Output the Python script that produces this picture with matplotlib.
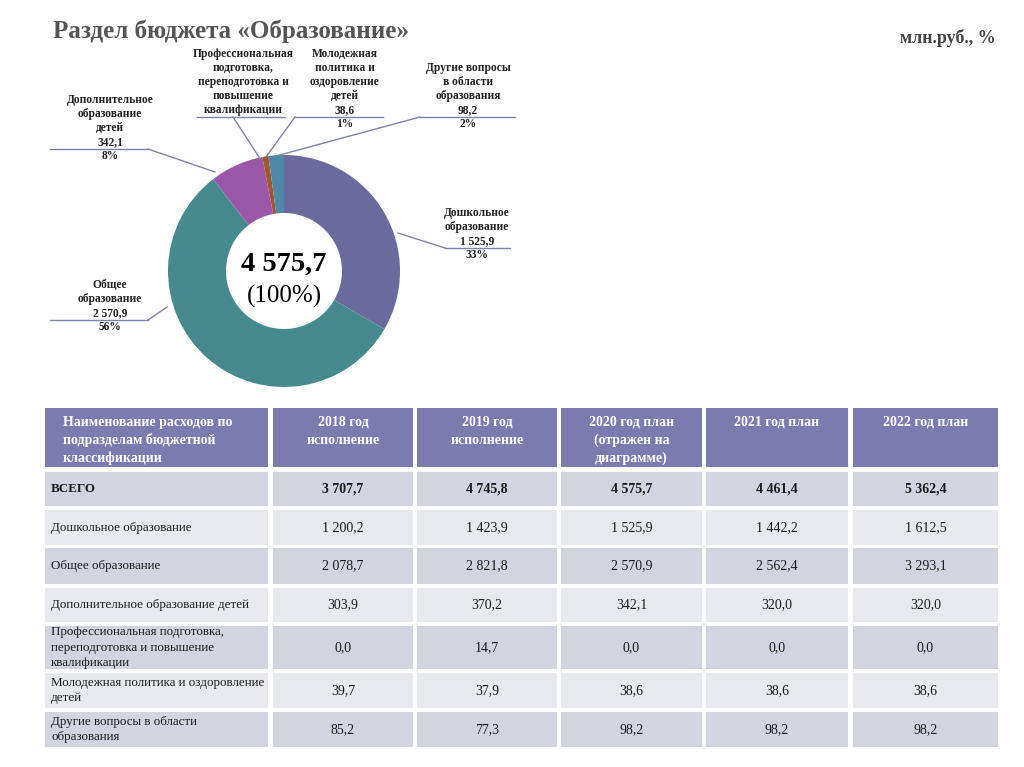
import numpy as np
import matplotlib
matplotlib.use("Agg")
import matplotlib.pyplot as plt
from matplotlib.patches import Rectangle

plt.rcParams['font.family'] = ['Liberation Serif', 'DejaVu Serif']

# data
categories = ["Дошкольное образование", "Общее образование",
              "Дополнительное образование детей",
              "Профессиональная подготовка, переподготовка и повышение квалификации",
              "Молодежная политика и оздоровление детей",
              "Другие вопросы в области образования"]
plan_2020 = [1525.9, 2570.9, 342.1, 0.0, 38.6, 98.2]
pct_labels = ["33%", "56%", "8%", "", "1%", "2%"]
slice_colors = ["#6B6A9C", "#468A8F", "#9B58A8", "#8E5A8A", "#A0582E", "#5089A8"]

col_headers = ["Наименование расходов по\nподразделам бюджетной\nклассификации",
               "2018 год\nисполнение", "2019 год\nисполнение",
               "2020 год план\n(отражен на\nдиаграмме)", "2021 год план", "2022 год план"]
row_names = ["ВСЕГО", "Дошкольное образование", "Общее образование",
             "Дополнительное образование детей",
             "Профессиональная подготовка,\nпереподготовка и повышение\nквалификации",
             "Молодежная политика и оздоровление\nдетей",
             "Другие вопросы в области\nобразования"]
values = [
    ["3 707,7", "4 745,8", "4 575,7", "4 461,4", "5 362,4"],
    ["1 200,2", "1 423,9", "1 525,9", "1 442,2", "1 612,5"],
    ["2 078,7", "2 821,8", "2 570,9", "2 562,4", "3 293,1"],
    ["303,9", "370,2", "342,1", "320,0", "320,0"],
    ["0,0", "14,7", "0,0", "0,0", "0,0"],
    ["39,7", "37,9", "38,6", "38,6", "38,6"],
    ["85,2", "77,3", "98,2", "98,2", "98,2"],
]

W, H = 1024, 767
fig = plt.figure(figsize=(W / 100, H / 100), dpi=100)
fig.patch.set_facecolor("white")

# overlay axes in pixel coordinates for text, table and leader lines
ov = fig.add_axes([0, 0, 1, 1])
ov.set_xlim(0, W)
ov.set_ylim(H, 0)
ov.axis("off")

ov.text(53, 31, "Раздел бюджета «Образование»", fontsize=18, fontweight="bold",
        color="#555555", va="center", ha="left")
ov.text(996, 38, "млн.руб., %", fontsize=13, fontweight="bold",
        color="#444444", va="center", ha="right")

# donut
cx, cy, r = 284, 271, 116
pax = fig.add_axes([(cx - r) / W, (H - cy - r) / H, 2 * r / W, 2 * r / H])
pax.pie(plan_2020, colors=slice_colors, startangle=90, counterclock=False,
        radius=1.0, wedgeprops=dict(width=0.5, edgecolor="none"))
pax.set_xlim(-1, 1)
pax.set_ylim(-1, 1)
pax.set_aspect("auto")
pax.axis("off")

ov.text(cx, 264, "4 575,7", fontsize=20.5, fontweight="bold", ha="center", va="center")
ov.text(cx, 296, "(100%)", fontsize=18, ha="center", va="center")

# slice labels: (text center x, underline y, underline x0, x1, leader start x, leader end on donut)
lbl_fs = 8.3
label_text = [
    "Дошкольное\nобразование\n1 525,9",
    "Общее\nобразование\n2 570,9",
    "Дополнительное\nобразование\nдетей\n342,1",
    "Профессиональная\nподготовка,\nпереподготовка и\nповышение\nквалификации",
    "Молодежная\nполитика и\nоздоровление\nдетей\n38,6",
    "Другие вопросы\nв области\nобразования\n98,2",
]
label_pos = [
    (477, 248, 445, 510, 445, 398, 233),
    (110, 320, 50, 148, 148, 167, 307),
    (110, 149, 50, 148, 148, 215, 172),
    (243, 117, 197, 285, 233, 259, 157),
    (345, 117, 295, 383, 295, 266, 157),
    (468, 117, 420, 515, 420, 276, 156),
]
for i, (txt, pos) in enumerate(zip(label_text, label_pos)):
    tx, ly, x0, x1, lx, ex, ey = pos
    ov.text(tx, ly - 1, txt, fontsize=lbl_fs, fontweight="bold", ha="center",
            va="bottom", linespacing=1.22, color="#222222")
    if pct_labels[i]:
        ov.text(tx, ly + 1, pct_labels[i], fontsize=lbl_fs, fontweight="bold",
                ha="center", va="top", color="#222222")
    ov.plot([x0, x1], [ly, ly], color="#7F82A8", lw=1.0)
    ov.plot([lx, ex], [ly, ey], color="#7F82A8", lw=1.0)

# table
col_x = [(45, 268), (273, 413), (417, 557), (561, 702), (706, 848), (853, 998)]
row_y = [(408, 467), (472, 506), (510, 545), (548, 584), (588, 622),
         (626, 669), (673, 708), (712, 747)]
header_color = "#7B7BAF"
dark_row = "#D2D4DF"
light_row = "#E8E9EE"

for j, (x0, x1) in enumerate(col_x):
    y0, y1 = row_y[0]
    ov.add_patch(Rectangle((x0, y0), x1 - x0, y1 - y0, color=header_color, lw=0))
    if j == 0:
        ov.text(x0 + 18, y0 + 8, col_headers[j], fontsize=10, fontweight="bold",
                color="white", ha="left", va="top", linespacing=1.38)
    else:
        ov.text((x0 + x1) / 2, y0 + 8, col_headers[j], fontsize=10, fontweight="bold",
                color="white", ha="center", va="top", linespacing=1.45)

for i, name in enumerate(row_names):
    y0, y1 = row_y[i + 1]
    fc = dark_row if i % 2 == 0 else light_row
    bold = "bold" if i == 0 else "normal"
    for j, (x0, x1) in enumerate(col_x):
        ov.add_patch(Rectangle((x0, y0), x1 - x0, y1 - y0, color=fc, lw=0))
    ym = (y0 + y1) / 2
    ov.text(col_x[0][0] + 6, ym, name, fontsize=9.4, fontweight=bold, color="#1A1A1A",
            ha="left", va="center", linespacing=1.35)
    for j, v in enumerate(values[i]):
        x0, x1 = col_x[j + 1]
        ov.text((x0 + x1) / 2, ym, v, fontsize=10, fontweight=bold, color="#1A1A1A",
                ha="center", va="center")

fig.savefig("out.png", dpi=100, facecolor="white")
